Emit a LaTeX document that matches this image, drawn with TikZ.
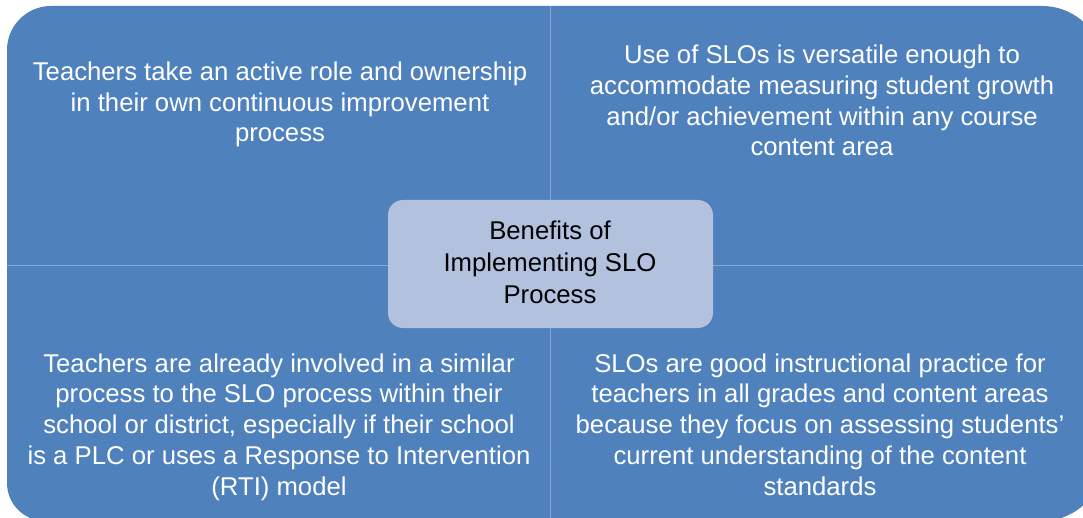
\documentclass[tikz,border=0pt]{standalone}
\usepackage{fontspec}
\setmainfont{Liberation Sans}
\definecolor{quadblue}{HTML}{4F81BD}
\definecolor{hubblue}{HTML}{B2C2DE}
\definecolor{divline}{HTML}{86A5D2}
\begin{document}
\begin{tikzpicture}[x=1pt,y=-1pt,
  quad/.style={fill=quadblue,draw=none},
  quadtext/.style={anchor=base,align=center,text=white,inner sep=0pt,
    font=\fontsize{25.7}{30.75}\selectfont},
  hubbox/.style={fill=hubblue,draw=none,rounded corners=15pt},
  hubtext/.style={anchor=base,align=center,text=black,inner sep=0pt,
    font=\fontsize{25.7}{31.5}\selectfont},
  divider/.style={draw=divline,line width=0.7pt}]
\useasboundingbox (0,0) rectangle (1083,518);
% quadrants
\begin{scope}
  \clip (0,0) rectangle (550,265);
  \fill[quad,rounded corners=44pt] (7,6) rectangle (650,400);
\end{scope}
\begin{scope}
  \clip (550,0) rectangle (1083,265);
  \fill[quad,rounded corners=62pt] (450,6) rectangle (1104,400);
\end{scope}
\begin{scope}
  \clip (0,265) rectangle (550,518);
  \fill[quad,rounded corners=38pt] (7,150) rectangle (650,521);
\end{scope}
\begin{scope}
  \clip (550,265) rectangle (1083,518);
  \fill[quad,rounded corners=62pt] (450,150) rectangle (1104,521);
\end{scope}
\coordinate (vt) at (550,6);
\coordinate (vb) at (550,518);
\coordinate (hl) at (7,265);
\coordinate (hr) at (1083,265);
\draw[divider] (vt) -- (vb);
\draw[divider] (hl) -- (hr);
% hub
\node[hubbox,minimum width=325pt,minimum height=128pt] (hub) at (550.5,264) {};
\node[hubtext] (hubt) at (550,303) {Benefits of\\Implementing SLO\\Process};
% quadrant texts (anchor = baseline of last line)
\node[quadtext] (tl) at (280,142) {Teachers take an active role and ownership\\in their own continuous improvement\\process};
\node[quadtext] (tr) at (822,156) {Use of SLOs is versatile enough to\\accommodate measuring student growth\\and/or achievement within any course\\content area};
\node[quadtext] (bl) at (279,495) {Teachers are already involved in a similar\\process to the SLO process within their\\school or district, especially if their school\\is a PLC or uses a Response to Intervention\\(RTI) model};
\node[quadtext] (br) at (820,495) {SLOs are good instructional practice for\\teachers in all grades and content areas\\because they focus on assessing students’\\current understanding of the content\\standards};
\end{tikzpicture}
\end{document}
